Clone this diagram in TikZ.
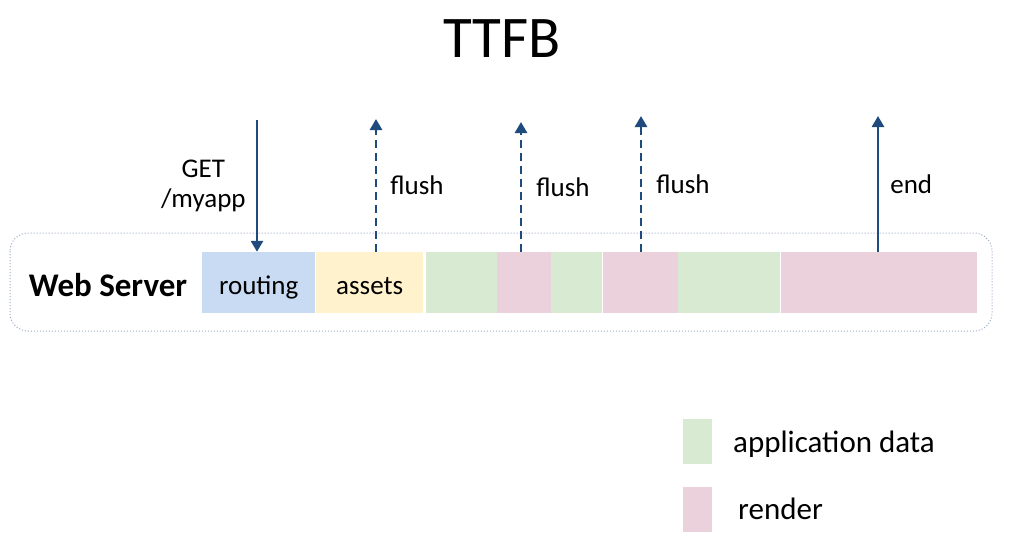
\documentclass[tikz,border=0pt]{standalone}
\usepackage{fontspec}
\setmainfont{Carlito}
\usetikzlibrary{arrows.meta,positioning}
\definecolor{routingc}{HTML}{C9DAF3}
\definecolor{assetsc}{HTML}{FFF2CC}
\definecolor{datac}{HTML}{D9EAD3}
\definecolor{renderc}{HTML}{EAD1DC}
\definecolor{arrowc}{HTML}{1F4A7E}
\definecolor{framec}{HTML}{9AAAC4}
\begin{document}
\begin{tikzpicture}[x=1pt,y=-1pt,
  blk/.style={anchor=west,minimum height=61pt,inner sep=0pt,text height=27pt,text depth=4pt,font=\fontsize{27}{30}\selectfont},
  flow/.style={-{Triangle[length=11pt,width=12pt]},line width=2.7pt,draw=arrowc},
  lbl/.style={font=\fontsize{27}{30}\selectfont,inner sep=0pt},
  key/.style={minimum width=29pt,minimum height=45pt,inner sep=0pt},
  frame/.style={draw=framec,dotted,line width=1pt,rounded corners=18pt}]
  \useasboundingbox (0,0) rectangle (1011,547);
  \node[font=\fontsize{59}{64}\selectfont,anchor=base] (title) at (502,57) {TTFB};

  \draw[frame] (10,233) rectangle (992,331);
  \node[font=\fontsize{33}{38}\selectfont\bfseries,anchor=base] (web) at (108,296) {Web Server};

  \node[blk,fill=routingc,minimum width=113pt] (routing) at (202,282.5) {routing};
  \node[blk,fill=assetsc,minimum width=107pt] (assets) at (316,282.5) {assets};
  \node[blk,fill=datac,minimum width=71pt] (d1) at (426,282.5) {};
  \node[blk,fill=renderc,minimum width=54pt] (r1) at (497,282.5) {};
  \node[blk,fill=datac,minimum width=51pt] (d2) at (551,282.5) {};
  \node[blk,fill=renderc,minimum width=75pt] (r2) at (603,282.5) {};
  \node[blk,fill=datac,minimum width=102pt] (d3) at (678,282.5) {};
  \node[blk,fill=renderc,minimum width=196pt] (r3) at (781,282.5) {};

  \coordinate (get) at (257,120);
  \coordinate (f1) at (376,119);
  \coordinate (f2) at (521,122);
  \coordinate (f3) at (641,116);
  \coordinate (fin) at (878,116);

  \draw[flow] (get) -- node[lbl,left=10pt,align=center] (getl) {GET\\/myapp} (get |- routing.north);
  \draw[flow,dash pattern=on 8pt off 5pt] (f1 |- assets.north) -- node[lbl,right=13pt] (f1l) {flush} (f1);
  \draw[flow,dash pattern=on 8pt off 5pt] (f2 |- r1.north) -- node[lbl,right=14pt] (f2l) {flush} (f2);
  \draw[flow,dash pattern=on 8pt off 5pt] (f3 |- r2.north) -- node[lbl,right=14pt] (f3l) {flush} (f3);
  \draw[flow] (fin |- r3.north) -- node[lbl,right=11pt] (finl) {end} (fin);

  % legend
  \node[key,fill=datac] (kdata) at (697.5,441.5) {};
  \node[key,fill=renderc] (krender) at (697.5,509) {};
  \node[lbl,font=\fontsize{31}{34}\selectfont,anchor=base west] (tdata) at (733,452) {application data};
  \node[lbl,font=\fontsize{31}{34}\selectfont,anchor=base west] (trender) at (738,519) {render};
\end{tikzpicture}
\end{document}
